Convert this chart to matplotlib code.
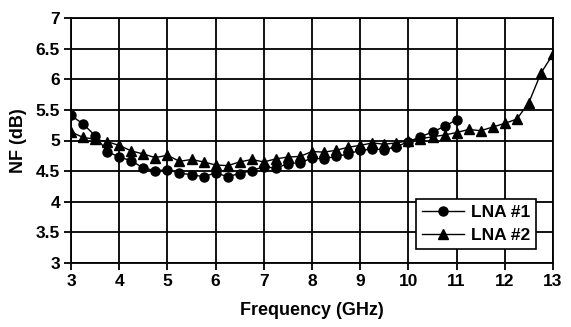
import numpy as np
import matplotlib.pyplot as plt

plt.rcParams['font.family'] = ['Liberation Sans', 'DejaVu Sans']
plt.rcParams['font.weight'] = 'bold'

# noise figure sweeps, 0.25 GHz steps
freq_lna1 = np.arange(3.0, 11.01, 0.25)
nf_lna1 = [5.41, 5.27, 5.08, 4.82, 4.73, 4.67, 4.55, 4.51, 4.52, 4.47, 4.44, 4.41,
           4.47, 4.41, 4.46, 4.51, 4.57, 4.55, 4.62, 4.64, 4.71, 4.70, 4.74, 4.78,
           4.84, 4.86, 4.85, 4.90, 4.98, 5.06, 5.14, 5.23, 5.34]

freq_lna2 = np.arange(3.0, 13.01, 0.25)
nf_lna2 = [5.14, 5.05, 5.02, 4.98, 4.92, 4.83, 4.78, 4.72, 4.76, 4.66, 4.69, 4.65,
           4.60, 4.59, 4.65, 4.69, 4.65, 4.70, 4.73, 4.74, 4.82, 4.81, 4.84, 4.89,
           4.92, 4.96, 4.94, 4.96, 5.00, 5.03, 5.06, 5.09, 5.13, 5.18, 5.16, 5.22,
           5.28, 5.35, 5.62, 6.10, 6.41]

x_ticks = list(range(3, 14))
y_ticks = [3, 3.5, 4, 4.5, 5, 5.5, 6, 6.5, 7]

fig = plt.figure(figsize=(5.71, 3.27), dpi=100)
ax = fig.add_axes([71 / 571, 1 - 263 / 327, 482 / 571, 245 / 327])

ax.plot(freq_lna1, nf_lna1, color='black', lw=1.0, marker='o', ms=6.5, label='LNA #1', zorder=3)
ax.plot(freq_lna2, nf_lna2, color='black', lw=1.0, marker='^', ms=7.5, label='LNA #2', zorder=3)

ax.set_xlim(3, 13)
ax.set_ylim(3, 7)
ax.set_xticks(x_ticks)
ax.set_yticks(y_ticks)
ax.set_yticklabels(['3', '3.5', '4', '4.5', '5', '5.5', '6', '6.5', '7'])
ax.grid(True, color='black', lw=1.3)
for s in ax.spines.values():
    s.set_linewidth(1.3)
ax.tick_params(direction='out', length=5, width=1.3, labelsize=12.5, pad=3)

ax.set_xlabel('Frequency (GHz)', fontsize=13, fontweight='bold', labelpad=9)
ax.set_ylabel('NF (dB)', fontsize=13, fontweight='bold', labelpad=6)

leg = ax.legend(loc='lower right', bbox_to_anchor=(0.983, 0.02), fontsize=12.5,
                fancybox=False, framealpha=1, edgecolor='black', handlelength=2.4,
                handletextpad=0.4, borderpad=0.35, labelspacing=0.45)
leg.get_frame().set_linewidth(1.2)

fig.savefig('out.png', dpi=100)
